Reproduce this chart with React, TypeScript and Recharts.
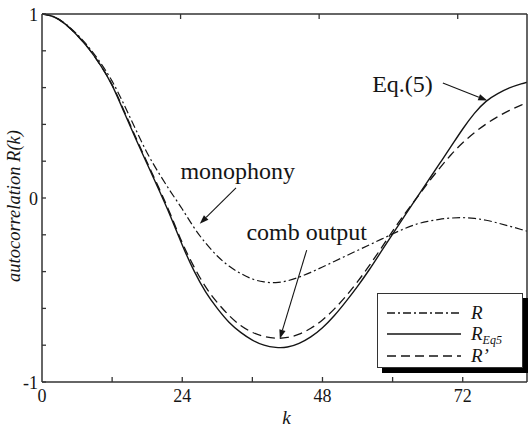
import { LineChart, Line, XAxis, YAxis, Legend, ReferenceLine, ReferenceDot } from "recharts";

// lag k (samples)
const K = [
  0, 2, 4, 6, 8, 10, 12, 14, 16, 18, 20, 22, 24, 26, 28, 30, 32, 34, 36, 38, 40, 42,
  44, 46, 48, 50, 52, 54, 56, 58, 60, 62, 64, 66, 68, 70, 72, 74, 76, 78, 80, 82, 84,
];

// R (monophony, dash-dot)
const R_MONO = [
  1.0, 0.985, 0.947, 0.89, 0.82, 0.735, 0.635, 0.51, 0.375, 0.245, 0.135, 0.035, -0.06,
  -0.16, -0.245, -0.315, -0.37, -0.41, -0.44, -0.456, -0.46, -0.45, -0.43, -0.404, -0.375,
  -0.345, -0.315, -0.285, -0.255, -0.225, -0.195, -0.167, -0.143, -0.127, -0.116, -0.109,
  -0.107, -0.111, -0.121, -0.136, -0.153, -0.171, -0.19,
];

// R_Eq5 (solid)
const R_EQ5 = [
  1.0, 0.985, 0.945, 0.885, 0.812, 0.722, 0.612, 0.47, 0.325, 0.185, 0.045, -0.1, -0.255,
  -0.395, -0.51, -0.6, -0.675, -0.73, -0.772, -0.8, -0.812, -0.81, -0.79, -0.755, -0.705,
  -0.64, -0.563, -0.48, -0.39, -0.293, -0.196, -0.1, -0.005, 0.09, 0.185, 0.28, 0.375, 0.46,
  0.525, 0.567, 0.598, 0.62, 0.638,
];

// R' (comb output, dashed)
const R_COMB = [
  1.0, 0.985, 0.945, 0.885, 0.812, 0.722, 0.615, 0.477, 0.333, 0.193, 0.055, -0.09, -0.243,
  -0.373, -0.483, -0.568, -0.638, -0.693, -0.73, -0.752, -0.762, -0.758, -0.74, -0.708,
  -0.663, -0.604, -0.534, -0.455, -0.368, -0.275, -0.18, -0.09, -0.005, 0.08, 0.16, 0.235,
  0.3, 0.355, 0.402, 0.442, 0.476, 0.505, 0.53,
];

const X_TICKS = [0, 12, 24, 36, 48, 60, 72];
const X_LABELS = [0, 24, 48, 72];
const Y_TICKS = [-1, -0.8, -0.6, -0.4, -0.2, 0, 0.2, 0.4, 0.6, 0.8, 1];
const Y_LABELS = [-1, 0, 1];

const data = K.map((k, i) => ({ k, mono: R_MONO[i], eq5: R_EQ5[i], comb: R_COMB[i] }));

const FONT = '"Liberation Serif", "Times New Roman", serif';
const INK = "#151515";
const AXIS = "#333";

const DASH: Record<string, string | undefined> = {
  mono: "8 3 2 3",
  eq5: undefined,
  comb: "9 5",
};

const LEGEND_ITEMS = [
  { key: "mono", name: "R", sub: "" },
  { key: "eq5", name: "R", sub: "Eq5" },
  { key: "comb", name: "R\u2019", sub: "" },
];

function BottomTick({ x, y, payload }: any) {
  const v = payload.value;
  return (
    <g>
      {v !== 0 && <line x1={x} x2={x} y1={y} y2={y - 5} stroke={AXIS} strokeWidth={1.3} />}
      {X_LABELS.includes(v) && (
        <text x={x} y={y + 20} textAnchor="middle" fontFamily={FONT} fontSize={18} fill={INK}>
          {v}
        </text>
      )}
    </g>
  );
}

function TopTick({ x, y, payload }: any) {
  if (payload.value === 0) return <g />;
  return <line x1={x} x2={x} y1={y} y2={y + 5} stroke={AXIS} strokeWidth={1.3} />;
}

function LeftTick({ x, y, payload }: any) {
  const v = payload.value;
  return (
    <g>
      <line x1={x} x2={x + 4} y1={y} y2={y} stroke={AXIS} strokeWidth={1.3} />
      {Y_LABELS.includes(v) && (
        <text x={x - 4} y={y + 7} textAnchor="end" fontFamily={FONT} fontSize={18} fill={INK}>
          {v}
        </text>
      )}
    </g>
  );
}

function RightTick({ x, y }: any) {
  return <line x1={x} x2={x - 5} y1={y} y2={y} stroke={AXIS} strokeWidth={1.3} />;
}

function Arrow({ x1, y1, x2, y2 }: any) {
  const a = Math.atan2(y2 - y1, x2 - x1);
  const len = 9;
  const w = 3.2;
  const bx = x2 - len * Math.cos(a);
  const by = y2 - len * Math.sin(a);
  const px = -Math.sin(a) * w;
  const py = Math.cos(a) * w;
  return (
    <g>
      <line x1={x1} y1={y1} x2={bx} y2={by} stroke={INK} strokeWidth={1.1} />
      <polygon points={`${x2},${y2} ${bx + px},${by + py} ${bx - px},${by - py}`} fill={INK} />
    </g>
  );
}

const noteText = (text: string) => ({ cx, cy }: any) => (
  <text x={cx} y={cy} textAnchor="middle" fontFamily={FONT} fontSize={24} fill={INK}>
    {text}
  </text>
);

function LegendBox() {
  const rows = [19, 40, 62];
  return (
    <div
      style={{
        position: "relative",
        width: 144,
        height: 73,
        border: `1.5px solid ${AXIS}`,
        background: "#fff",
        boxShadow: "5px 5px 0 #000",
        fontFamily: FONT,
        fontStyle: "italic",
        color: INK,
      }}
    >
      {LEGEND_ITEMS.map((it, i) => (
        <div
          key={it.key}
          style={{ position: "absolute", left: 9, top: rows[i] - 9, height: 18, display: "flex", alignItems: "center" }}
        >
          <svg width={74} height={6}>
            <line x1={0} x2={74} y1={3} y2={3} stroke={INK} strokeWidth={1.3} strokeDasharray={DASH[it.key]} />
          </svg>
          <span style={{ marginLeft: 10, fontSize: 19, lineHeight: "18px", height: 18, whiteSpace: "nowrap" }}>
            {it.name}
            {it.sub && (
              <span style={{ fontSize: 12, position: "relative", top: 4, lineHeight: "12px" }}>{it.sub}</span>
            )}
          </span>
        </div>
      ))}
    </div>
  );
}

export default function App() {
  return (
    <div style={{ position: "fixed", left: 0, top: 0, width: 528, height: 428, overflow: "hidden", background: "#fff" }}>
      <LineChart width={560} height={428} data={data} margin={{ top: 0, right: 0, bottom: 0, left: 0 }}>
        <XAxis
          xAxisId="bottom"
          dataKey="k"
          type="number"
          domain={[0, 83]}
          allowDataOverflow
          ticks={X_TICKS}
          interval={0}
          height={46}
          tickSize={0}
          tickMargin={0}
          tickLine={false}
          axisLine={{ stroke: AXIS, strokeWidth: 1.5 }}
          tick={<BottomTick />}
          label={{
            content: ({ viewBox }: any) => (
              <text
                x={viewBox.x + viewBox.width / 2 + 2}
                y={viewBox.y + 42}
                textAnchor="middle"
                fontFamily={FONT}
                fontStyle="italic"
                fontSize={19}
                fill={INK}
              >
                k
              </text>
            ),
          }}
        />
        <XAxis
          xAxisId="top"
          orientation="top"
          type="number"
          domain={[0, 83]}
          allowDataOverflow
          ticks={X_TICKS}
          interval={0}
          height={14}
          tickSize={0}
          tickMargin={0}
          tickLine={false}
          axisLine={{ stroke: AXIS, strokeWidth: 1.5 }}
          tick={<TopTick />}
        />
        <YAxis
          yAxisId="left"
          type="number"
          domain={[-1, 1]}
          ticks={Y_TICKS}
          interval={0}
          width={42}
          tickSize={0}
          tickMargin={0}
          tickLine={false}
          axisLine={{ stroke: AXIS, strokeWidth: 1.5 }}
          tick={<LeftTick />}
          label={{
            content: ({ viewBox }: any) => {
              const cx = viewBox.x + 20;
              const cy = viewBox.y + viewBox.height / 2 + 8;
              return (
                <text
                  x={cx}
                  y={cy}
                  transform={`rotate(-90 ${cx} ${cy})`}
                  textAnchor="middle"
                  fontFamily={FONT}
                  fontStyle="italic"
                  fontSize={18.5}
                  fill={INK}
                >
                  autocorrelation R(k)
                </text>
              );
            },
          }}
        />
        <YAxis
          yAxisId="right"
          orientation="right"
          type="number"
          domain={[-1, 1]}
          ticks={Y_TICKS}
          interval={0}
          width={33}
          tickSize={0}
          tickMargin={0}
          tickLine={false}
          axisLine={{ stroke: AXIS, strokeWidth: 1.5 }}
          tick={<RightTick />}
        />

        <Line xAxisId="bottom" yAxisId="left" dataKey="mono" type="natural" stroke={INK} strokeWidth={1.2}
          strokeDasharray={DASH.mono} dot={false} activeDot={false} isAnimationActive={false} />
        <Line xAxisId="bottom" yAxisId="left" dataKey="comb" type="natural" stroke={INK} strokeWidth={1.3}
          strokeDasharray={DASH.comb} dot={false} activeDot={false} isAnimationActive={false} />
        <Line xAxisId="bottom" yAxisId="left" dataKey="eq5" type="natural" stroke={INK} strokeWidth={1.4}
          dot={false} activeDot={false} isAnimationActive={false} />

        {/* annotations */}
        <ReferenceDot xAxisId="bottom" yAxisId="left" x={33.5} y={0.103} shape={noteText("monophony")} />
        <ReferenceDot xAxisId="bottom" yAxisId="left" x={45.3} y={-0.228} shape={noteText("comb output")} />
        <ReferenceDot xAxisId="bottom" yAxisId="left" x={61.7} y={0.576} shape={noteText("Eq.(5)")} />
        <ReferenceLine xAxisId="bottom" yAxisId="left" segment={[{ x: 33.2, y: 0.055 }, { x: 27.0, y: -0.14 }]} shape={<Arrow />} />
        <ReferenceLine xAxisId="bottom" yAxisId="left" segment={[{ x: 45.3, y: -0.283 }, { x: 40.7, y: -0.765 }]} shape={<Arrow />} />
        <ReferenceLine xAxisId="bottom" yAxisId="left" segment={[{ x: 68.6, y: 0.625 }, { x: 76.2, y: 0.53 }]} shape={<Arrow />} />

        <Legend
          layout="vertical"
          align="center"
          verticalAlign="middle"
          content={() => <LegendBox />}
          wrapperStyle={{ left: 377, top: 293, width: 147, height: 76 }}
        />
      </LineChart>
    </div>
  );
}
